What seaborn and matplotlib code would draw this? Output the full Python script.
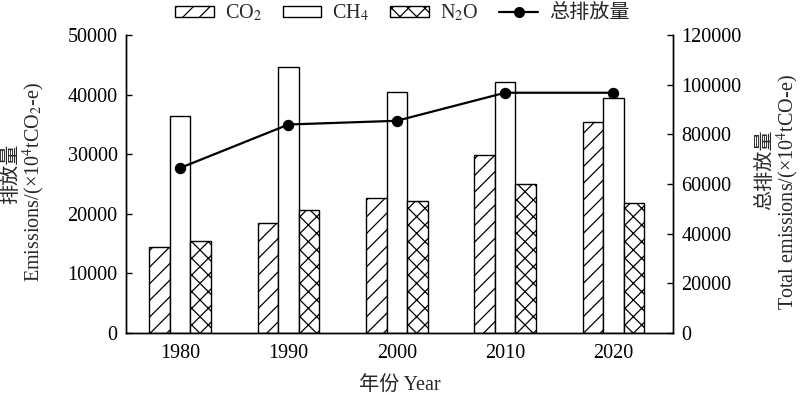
import numpy as np
import pandas as pd
import seaborn as sns
import matplotlib.pyplot as plt
from matplotlib.lines import Line2D

sns.set_theme(style="white")
plt.rcParams['font.family'] = ['Liberation Serif', 'Noto Sans CJK SC', 'DejaVu Sans']
plt.rcParams['mathtext.fontset'] = 'stix'
plt.rcParams['hatch.linewidth'] = 0.9
plt.rcParams['hatch.color'] = 'black'

# data
years = ["1980", "1990", "2000", "2010", "2020"]
co2 = [14500, 18500, 22600, 29800, 35500]
ch4 = [36500, 44700, 40500, 42100, 39400]
n2o = [15500, 20600, 22200, 25000, 21900]
total = [66500, 84000, 85500, 96800, 96800]
gases = ["CO$_2$", "CH$_4$", "N$_2$O"]
hatches = ["//", "", "xx"]

df = pd.DataFrame({
    "year": years * 3,
    "gas": [gases[0]] * 5 + [gases[1]] * 5 + [gases[2]] * 5,
    "value": co2 + ch4 + n2o,
})

fig = plt.figure(figsize=(8, 3.95), dpi=100)
ax = fig.add_axes([0.1575, 0.157, 0.6838, 0.754])

sns.barplot(data=df, x="year", y="value", hue="gas", order=years, hue_order=gases,
            width=0.57, palette=["white"] * 3, edgecolor="black",
            linewidth=1.0, ax=ax, legend=False)
for cont, h in zip(ax.containers, hatches):
    for p in cont:
        p.set_hatch(h)
        p.set_facecolor("white")
        p.set_edgecolor("black")

ax2 = ax.twinx()
sns.pointplot(x=years, y=total, order=years, color="black", markers="o",
              markersize=7, linewidth=1.6, errorbar=None, ax=ax2)

ax.set_xlim(-0.5, 4.55)
ax2.set_xlim(-0.5, 4.55)
ax.set_ylim(0, 50000)
ax2.set_ylim(0, 120000)
ax.set_yticks(range(0, 50001, 10000))
ax2.set_yticks(range(0, 120001, 20000))

for a in (ax, ax2):
    for s in ["left", "right", "bottom"]:
        a.spines[s].set_visible(True)
        a.spines[s].set_color("black")
        a.spines[s].set_linewidth(1.0)
    a.spines["top"].set_visible(False)
    a.tick_params(axis="both", labelsize=14.5, colors="black")
    a.set_xlabel("")
    a.set_ylabel("")
ax.tick_params(axis="y", direction="in", length=4, width=1, pad=6, left=True)
ax2.tick_params(axis="y", direction="in", length=4, width=1, pad=6, right=True)
ax.tick_params(axis="x", length=0, pad=8)
ax2.tick_params(axis="x", length=0)
ax.grid(False)
ax2.grid(False)

ax.set_xlabel("年份 Year", fontsize=14.5, labelpad=9)

# y-axis titles
fig.text(11 / 800, 1 - 174 / 395, "排放量", rotation=90, fontsize=14.5,
         ha="center", va="center", family=['Noto Sans CJK SC'])
fig.text(34 / 800, 1 - 182 / 395, "Emissions/(×10$^4$tCO$_2$-e)", rotation=90,
         fontsize=14.5, ha="center", va="center")
fig.text(765 / 800, 1 - 170 / 395, "总排放量", rotation=90, fontsize=14.5,
         ha="center", va="center", family=['Noto Sans CJK SC'])
fig.text(788 / 800, 1 - 192 / 395, "Total emissions/(×10$^4$tCO-e)", rotation=90,
         fontsize=14.5, ha="center", va="center")

handles = [cont.patches[0] for cont in ax.containers]
handles.append(Line2D([], [], color="black", marker="o", markersize=7, linewidth=1.6))
labels = gases + ["总排放量"]
fig.legend(handles, labels, loc="center", bbox_to_anchor=(0.503, 1 - 13 / 395), ncol=4,
           frameon=False, handlelength=1.9, handleheight=0.45,
           handletextpad=0.55, columnspacing=1.05, borderaxespad=0,
           prop={'family': ['Liberation Serif', 'Noto Sans CJK SC'], 'size': 14.5})

fig.savefig("out.png", dpi=100)
